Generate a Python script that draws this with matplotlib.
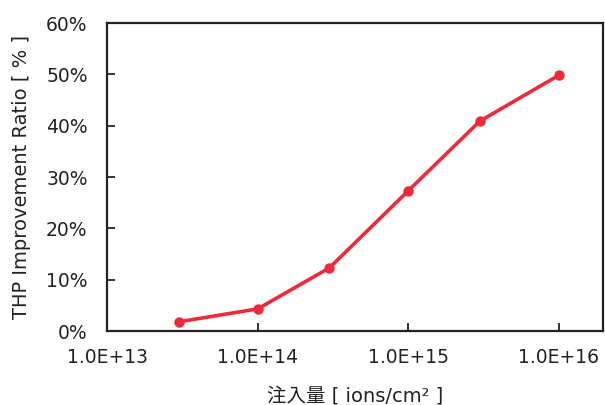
import numpy as np
import matplotlib.pyplot as plt
from matplotlib.ticker import FixedLocator, FuncFormatter, NullLocator

dose = [3e13, 1e14, 3e14, 1e15, 3e15, 1e16]
ratio = [1.8, 4.3, 12.3, 27.3, 40.9, 49.8]
xticks = [1e13, 1e14, 1e15, 1e16]
yticks = [0, 10, 20, 30, 40, 50, 60]

plt.rcParams['font.family'] = ['DejaVu Sans', 'Noto Sans CJK JP']

fig = plt.figure(figsize=(6.05, 4.05), dpi=100)
ax = fig.add_axes([0.1769, 0.1827, 0.8198, 0.7605])

ax.plot(dose, ratio, color='#ee2a3a', lw=2.6, marker='o', ms=6.5)

ax.set_xscale('log')
ax.set_xlim(1e13, 1.97e16)
ax.set_ylim(0, 60)
ax.xaxis.set_major_locator(FixedLocator(xticks))
ax.xaxis.set_minor_locator(NullLocator())
ax.xaxis.set_major_formatter(FuncFormatter(lambda v, p: '%.1E' % v))
ax.yaxis.set_major_locator(FixedLocator(yticks))
ax.yaxis.set_major_formatter(FuncFormatter(lambda v, p: '%d%%' % v))

ax.tick_params(direction='in', length=6, width=1.3, labelsize=13.5, colors='#222222')
ax.tick_params(axis='x', pad=12)
ax.tick_params(axis='y', pad=14)
for s in ax.spines.values():
    s.set_linewidth(1.6)
    s.set_color('#222222')

ax.set_ylabel('THP Improvement Ratio [ % ]', fontsize=14, color='#222222', labelpad=11)
ax.set_xlabel('注入量 [ ions/cm² ]', fontsize=14, color='#222222', labelpad=14)

fig.savefig('out.png', dpi=100)
